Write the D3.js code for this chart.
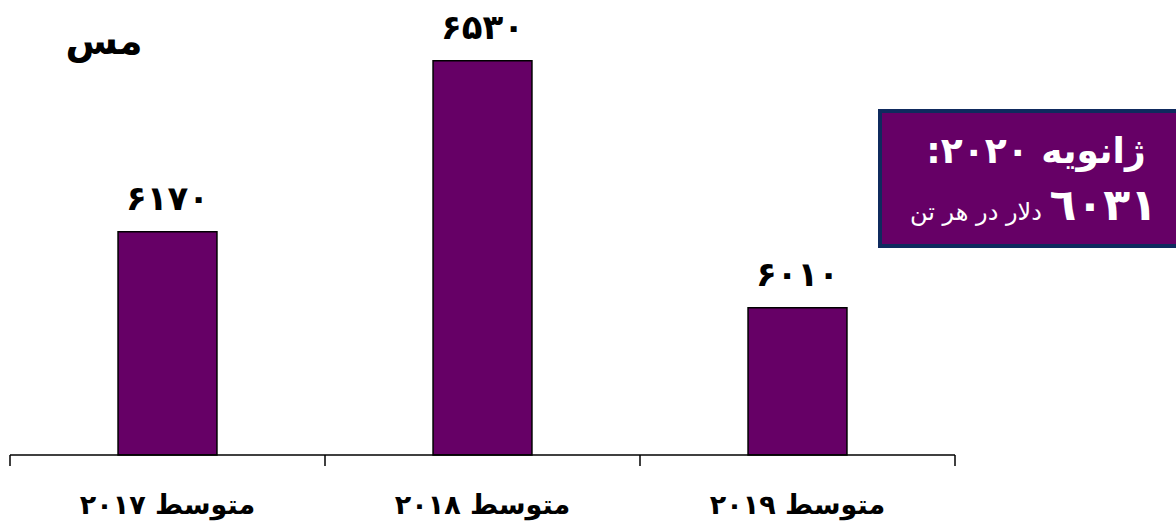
<!DOCTYPE html>
<html><head><meta charset="utf-8">
<script src="https://cdn.jsdelivr.net/npm/d3@7/dist/d3.min.js"></script>
<style>body{margin:0;background:#fff;}svg{display:block;}</style>
</head><body>
<script>
const categories = ["متوسط ۲۰۱۷", "متوسط ۲۰۱۸", "متوسط ۲۰۱۹"];
const values = [6170, 6530, 6010];
const valueLabels = ["۶۱۷۰", "۶۵۳۰", "۶۰۱۰"];
const title = "مس";
const boxLine1 = "ژانویه ۲۰۲۰:";
const boxValue = "٦٠٣١";
const boxUnit = "دلار در هر تن";

const W = 1176, H = 528;
const svg = d3.select("body").append("svg").attr("width", W).attr("height", H);
const font = "'DejaVu Sans', 'Noto Sans', sans-serif";

const x = d3.scaleBand().domain(categories).range([10, 955]).padding(0);
const y = d3.scaleLinear().domain([5700, 6600]).range([455, 27.5]);
const barW = x.bandwidth() * 0.314;

svg.selectAll("rect.bar").data(values).join("rect")
  .attr("class", "bar")
  .attr("x", (d, i) => x(categories[i]) + (x.bandwidth() - barW) / 2)
  .attr("y", d => y(d))
  .attr("width", barW)
  .attr("height", d => y(5700) - y(d))
  .attr("fill", "#660066")
  .attr("stroke", "#000").attr("stroke-width", 1.5);

const axis = d3.axisBottom(x).tickSize(0).tickFormat("");
const ag = svg.append("g").attr("transform", "translate(0,455)").call(axis);
ag.select(".domain").attr("stroke", "#000").attr("stroke-width", 1.5).attr("d", "M10,0H955");
const bounds = [10].concat(categories.map(c => x(c) + x.bandwidth()));
ag.selectAll("line.bt").data(bounds).join("line").attr("class", "bt")
  .attr("x1", d => d).attr("x2", d => d).attr("y1", 0).attr("y2", 11)
  .attr("stroke", "#000").attr("stroke-width", 1.5);

svg.selectAll("text.cat").data(categories).join("text").attr("class", "cat")
  .attr("x", d => x(d) + x.bandwidth() / 2).attr("y", 514)
  .attr("text-anchor", "middle").attr("direction", "rtl")
  .attr("font-family", font).attr("font-weight", "bold").attr("font-size", 27)
  .attr("fill", "#000").text(d => d);

svg.selectAll("text.val").data(values).join("text").attr("class", "val")
  .attr("x", (d, i) => x(categories[i]) + x.bandwidth() / 2)
  .attr("y", d => y(d) - 22)
  .attr("text-anchor", "middle")
  .attr("font-family", font).attr("font-weight", "bold").attr("font-size", 34)
  .attr("fill", "#000").text((d, i) => valueLabels[i]);

svg.append("text").attr("x", 104).attr("y", 54).attr("text-anchor", "middle")
  .attr("direction", "rtl")
  .attr("font-family", font).attr("font-weight", "bold").attr("font-size", 38)
  .attr("fill", "#000").text(title);

svg.append("rect").attr("x", 880).attr("y", 111).attr("width", 310).attr("height", 135)
  .attr("fill", "#660066").attr("stroke", "#0f2a5e").attr("stroke-width", 4);
svg.append("text").attr("x", 1036).attr("y", 163).attr("text-anchor", "middle")
  .attr("direction", "rtl")
  .attr("font-family", font).attr("font-weight", "bold").attr("font-size", 36)
  .attr("fill", "#fff").text(boxLine1);
const t2 = svg.append("text").attr("x", 1157).attr("y", 220).attr("text-anchor", "start")
  .attr("direction", "rtl").attr("fill", "#fff").attr("font-family", font);
t2.append("tspan").attr("font-weight", "bold").attr("font-size", 44).text(boxValue);
t2.append("tspan").attr("font-size", 24).text(" " + boxUnit);
</script>
</body></html>
